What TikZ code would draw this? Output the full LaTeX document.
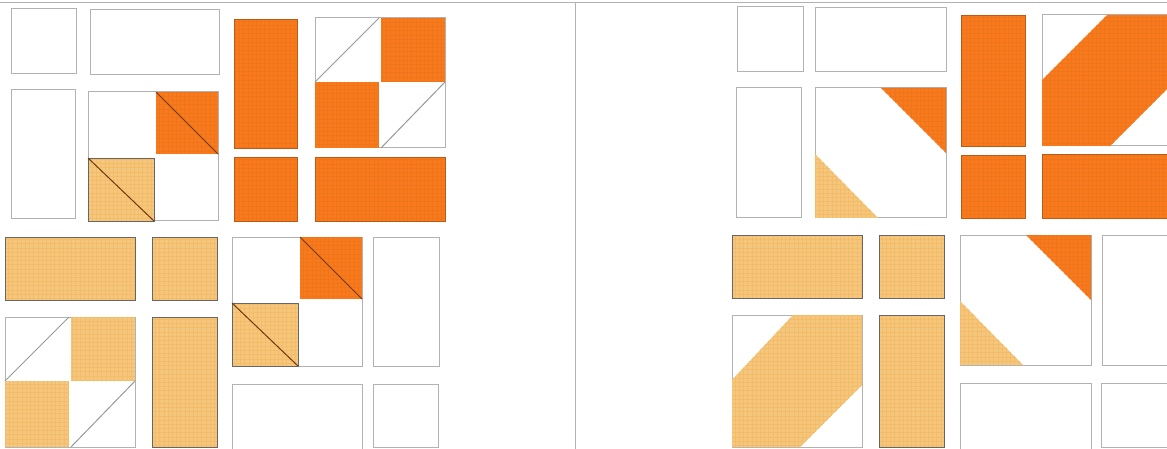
\documentclass[tikz,border=0pt]{standalone}
\definecolor{rust}{HTML}{F97A1C}
\definecolor{sand}{HTML}{F3C87E}
\tikzset{
	cloth/.style={path picture={\draw[#1, line width=0.4pt] (path picture bounding box.south west) grid[step=4.2pt] (path picture bounding box.north east);}},
	blank/.style={draw=gray!60, line width=1pt, fill=white},
	rustpatch/.style={draw=rust!75!black, line width=0.9pt, fill=rust, cloth=rust!96!black},
	sandpatch/.style={draw=gray!80!black, line width=0.9pt, fill=sand, cloth=sand!82!orange},
	seam/.style={draw=gray!80, line width=1pt},
	darkseam/.style={draw=black!55!rust, line width=1pt}
}
\begin{document}
\begin{tikzpicture}[x=1pt, y=-1pt]
	\clip (0,0) rectangle (1167,449);
	\fill[white] (0,0) rectangle (1167,449);
	\draw[gray!60, line width=1.2pt] (0,2.5) -- (1167,2.5);
	\draw[gray!60, line width=1pt] (575,2.5) -- (575,449);
	% plain pieces, left and right
	\foreach \a/\b/\c/\d in {11/9/76/74, 90/10/219/75, 11/90/75/219, 373/237/439/366, 232/384/362/449, 373/384/438/447,
		737/7/803/72, 815/8/946/72, 736/88/801/218, 1102/235/1170/365, 960/383/1091/449, 1101/383/1170/447} {
		\draw[blank] (\a,\b) rectangle (\c,\d);
	}
	\foreach \a/\b/\c/\d in {234/19/297/148, 234/157/297/221, 315/157/445/221,
		961/15/1025/146, 961/155/1025/218, 1042/154/1170/218} {
		\draw[rustpatch] (\a,\b) rectangle (\c,\d);
	}
	\foreach \a/\b/\c/\d in {5/237/135/300, 152/237/217/300, 152/317/217/447,
		732/235/862/298, 879/235/944/298, 879/315/944/447} {
		\draw[sandpatch] (\a,\b) rectangle (\c,\d);
	}
	% left: blocks before sewing
	\foreach \x/\y in {88/92, 232/237} {
		\begin{scope}[shift={(\x,\y)}]
			\draw[blank] (0,0) rectangle (130,129);
			\draw[rustpatch, draw=none] (68,0) rectangle (130,62);
			\draw[darkseam] (68,0) -- (130,62);
			\draw[sandpatch] (0,66) rectangle (66,129);
			\draw[darkseam] (0,66) -- (66,129);
		\end{scope}
	}
	\foreach \x/\y/\k in {315/18/rustpatch, 5/317/sandpatch} {
		\begin{scope}[shift={(\x,\y)}]
			\draw[blank] (0,0) rectangle (130,130);
			\draw[\k, draw=none] (66,0) rectangle (130,64);
			\draw[\k, draw=none] (0,64) rectangle (64,130);
			\draw[seam] (0,64) -- (64,0);
			\draw[seam] (66,130) -- (130,64);
		\end{scope}
	}
	% right: blocks after sewing
	\foreach \x/\y in {815/88, 960/235} {
		\begin{scope}[shift={(\x,\y)}]
			\draw[blank] (0,0) rectangle (131,130);
			\fill[rustpatch, draw=none] (66,0) -- (131,0) -- (131,65) -- cycle;
			\fill[sandpatch, draw=none] (0,66) -- (63,130) -- (0,130) -- cycle;
		\end{scope}
	}
	\draw[blank] (1042,15) rectangle (1172,146);
	\fill[rustpatch, draw=none] (1042,80) -- (1107,15) -- (1172,15) -- (1172,84) -- (1110,146) -- (1042,146) -- cycle;
	\draw[blank] (732,315) rectangle (862,447);
	\fill[sandpatch, draw=none] (732,380) -- (793,315) -- (862,315) -- (862,385) -- (800,447) -- (732,447) -- cycle;
\end{tikzpicture}
\end{document}
